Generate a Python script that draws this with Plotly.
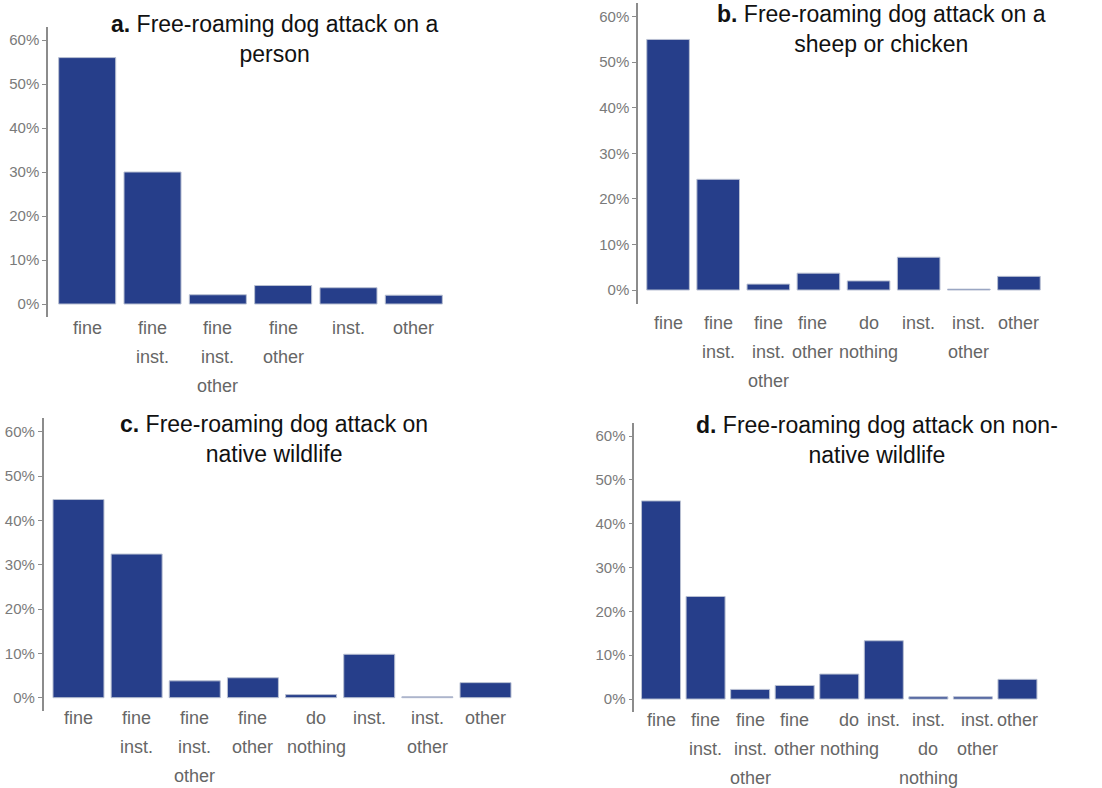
import plotly.graph_objects as go

W, H = 1102, 788

# ---------------- data ----------------
titles = [
    "<b>a.</b> Free-roaming dog attack on a<br>person",
    "<b>b.</b> Free-roaming dog attack on a<br>sheep or chicken",
    "<b>c.</b> Free-roaming dog attack on<br>native wildlife",
    "<b>d.</b> Free-roaming dog attack on non-<br>native wildlife",
]

cats_a = ["fine", "fine\ninst.", "fine\ninst.\nother", "fine\nother", "inst.", "other"]
vals_a = [56.0, 30.0, 2.1, 4.2, 3.7, 2.0]

cats_b = ["fine", "fine\ninst.", "fine\ninst.\nother", "fine\nother", "do\nnothing",
          "inst.", "inst.\nother", "other"]
vals_b = [55.0, 24.3, 1.3, 3.7, 2.0, 7.2, 0.2, 3.0]

cats_c = ["fine", "fine\ninst.", "fine\ninst.\nother", "fine\nother", "do\nnothing",
          "inst.", "inst.\nother", "other"]
vals_c = [44.7, 32.4, 3.8, 4.5, 0.7, 9.8, 0.2, 3.4]

cats_d = ["fine", "fine\ninst.", "fine\ninst.\nother", "fine\nother", "do\nnothing",
          "inst.", "inst.\ndo\nnothing", "inst.\nother", "other"]
vals_d = [45.2, 23.4, 2.2, 3.1, 5.7, 13.3, 0.5, 0.5, 4.5]

y_ticks = [0, 10, 20, 30, 40, 50, 60]

# ---------------- layout (pixel geometry of each panel) ----------------
panels = [
    dict(cats=cats_a, vals=vals_a, x=(48, 453), y=(26.8, 317.2), gap=0.127, lab=328, tc=(275, 39),
         shift={}),
    dict(cats=cats_b, vals=vals_b, x=(638, 1049), y=(3.0, 303.7), gap=0.15, lab=323, tc=(881, 29),
         shift={"fine other": -6}),
    dict(cats=cats_c, vals=vals_c, x=(43.6, 520.4), y=(418.4, 711.0), gap=0.123, lab=718, tc=(274, 439),
         shift={"do nothing": 5}),
    dict(cats=cats_d, vals=vals_d, x=(634.3, 1044.2), y=(422.9, 712.2), gap=0.125, lab=720, tc=(877, 440),
         shift={"do nothing": 10, "inst. other": 5}),
]

BAR = "#263E8A"
EDGE = "#b9c0d2"
AXIS = "#8c8c8c"
TICKTXT = "#7a7a7a"
LABTXT = "#666666"
LINE_PX = 29

fig = go.Figure()
annotations = []

for i, p in enumerate(panels, start=1):
    xa = "x" if i == 1 else f"x{i}"
    ya = "y" if i == 1 else f"y{i}"
    keys = [c.replace("\n", " ") for c in p["cats"]]
    n = len(keys)
    fig.add_trace(go.Bar(
        x=keys, y=p["vals"], xaxis=xa, yaxis=ya,
        marker=dict(color=BAR, line=dict(color=EDGE, width=1)),
        width=1 - p["gap"], showlegend=False, hoverinfo="x+y",
    ))
    xk = "xaxis" if i == 1 else f"xaxis{i}"
    yk = "yaxis" if i == 1 else f"yaxis{i}"
    fig.update_layout(**{
        xk: dict(domain=[p["x"][0] / W, p["x"][1] / W], anchor=ya,
                 type="category", categoryorder="array", categoryarray=keys,
                 range=[-0.6, n - 0.4], showline=False, showgrid=False,
                 zeroline=False, showticklabels=False, ticks=""),
        yk: dict(domain=[1 - p["y"][1] / H, 1 - p["y"][0] / H], anchor=xa,
                 range=[-3, 63], tickvals=y_ticks, ticktext=[f"{v}%" for v in y_ticks],
                 showline=True, linecolor=AXIS, linewidth=1.5, mirror=False,
                 ticks="outside", ticklen=4, tickwidth=1.2, tickcolor=AXIS,
                 showgrid=False, zeroline=False,
                 tickfont=dict(family="Liberation Sans, Arial", size=15, color=TICKTXT)),
    })
    # category labels, one line each
    for k, c in zip(keys, p["cats"]):
        for j, line in enumerate(c.split("\n")):
            annotations.append(dict(
                x=k, xref=xa, y=1 - (p["lab"] + j * LINE_PX) / H, yref="paper",
                xshift=p["shift"].get(k, 0),
                text=line, showarrow=False, xanchor="center", yanchor="middle",
                font=dict(family="Liberation Sans, Arial", size=18, color=LABTXT),
            ))
    # panel title
    annotations.append(dict(
        x=p["tc"][0] / W, xref="paper", y=1 - p["tc"][1] / H, yref="paper",
        text=titles[i - 1], showarrow=False, xanchor="center", yanchor="middle",
        align="center",
        font=dict(family="Liberation Sans, Arial", size=23, color="#111111"),
    ))

fig.update_layout(
    width=W, height=H,
    margin=dict(l=0, r=0, t=0, b=0),
    paper_bgcolor="white", plot_bgcolor="white",
    annotations=annotations,
    bargap=0.12,
)

fig.write_html("out.html")
